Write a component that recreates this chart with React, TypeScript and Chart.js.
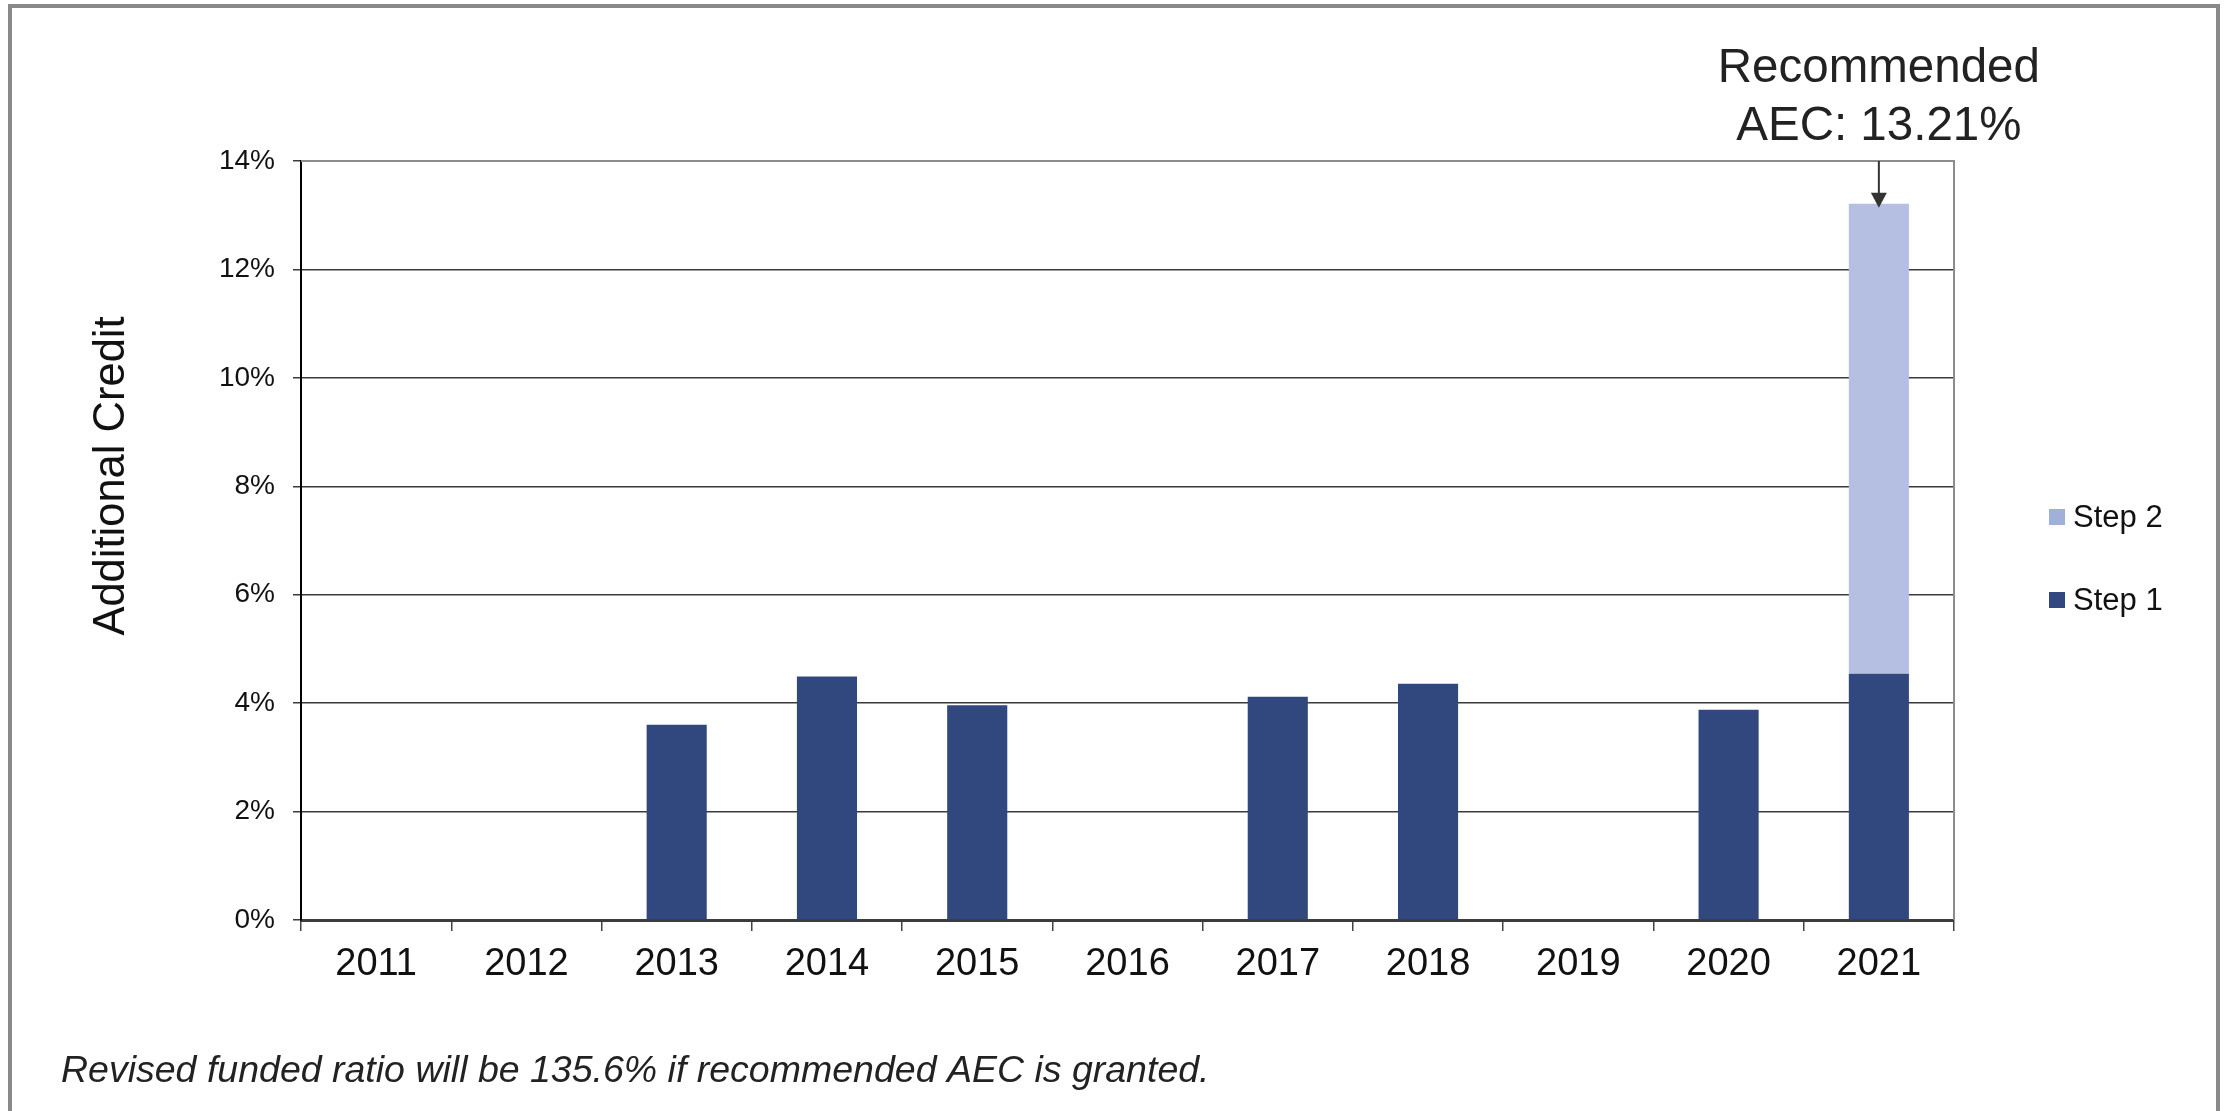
import React, { useEffect, useRef } from "react";
import { Chart, registerables } from "chart.js";

Chart.register(...registerables);

const years = ["2011", "2012", "2013", "2014", "2015", "2016", "2017", "2018", "2019", "2020", "2021"];
const step1Values = [0, 0, 3.6, 4.49, 3.96, 0, 4.12, 4.36, 0, 3.88, 4.54];
const step2Values = [0, 0, 0, 0, 0, 0, 0, 0, 0, 0, 8.67];
const seriesLabels = ["Step 1", "Step 2"];
const seriesColors = ["#31487f", "#b4bfe2"];
const yTicks = [0, 2, 4, 6, 8, 10, 12, 14];
const annotationLines = ["Recommended", "AEC: 13.21%"];
const yTitle = "Additional Credit";
const caption = "Revised funded ratio will be 135.6% if recommended AEC is granted.";

const FONT = "'Liberation Sans', Arial, Helvetica, sans-serif";

export default function App() {
  const ref = useRef<HTMLCanvasElement | null>(null);

  useEffect(() => {
    if (!ref.current) return;
    const decor = {
      id: "decor",
      beforeDraw(chart: any) {
        const ctx = chart.ctx;
        ctx.save();
        ctx.fillStyle = "#ffffff";
        ctx.fillRect(0, 0, chart.width, chart.height);
        ctx.strokeStyle = "#898989";
        ctx.lineWidth = 4;
        ctx.strokeRect(10, 6, 2208, 1400);
        ctx.restore();
      },
      afterDraw(chart: any) {
        const ctx = chart.ctx;
        const area = chart.chartArea;
        const xs = chart.scales.x;
        const ys = chart.scales.y;
        ctx.save();
        // plot top/right border
        ctx.strokeStyle = "#8c8c8c";
        ctx.lineWidth = 2;
        ctx.beginPath();
        ctx.moveTo(area.left, area.top);
        ctx.lineTo(area.right, area.top);
        ctx.lineTo(area.right, area.bottom);
        ctx.stroke();

        // annotation
        const last = years.length - 1;
        const total = step1Values[last] + step2Values[last];
        const cx = xs.getPixelForValue(last);
        const topY = ys.getPixelForValue(total);
        ctx.fillStyle = "#222222";
        ctx.font = `47.5px ${FONT}`;
        ctx.textAlign = "center";
        ctx.textBaseline = "alphabetic";
        ctx.fillText(annotationLines[0], cx, 82);
        ctx.fillText(annotationLines[1], cx, 140);
        // arrow
        ctx.strokeStyle = "#333333";
        ctx.lineWidth = 2;
        ctx.beginPath();
        ctx.moveTo(cx, area.top);
        ctx.lineTo(cx, topY - 10);
        ctx.stroke();
        ctx.fillStyle = "#333333";
        ctx.beginPath();
        ctx.moveTo(cx - 8, topY - 11);
        ctx.lineTo(cx + 8, topY - 11);
        ctx.lineTo(cx, topY + 4);
        ctx.closePath();
        ctx.fill();

        // y title
        ctx.save();
        ctx.translate(112, 476);
        ctx.rotate(-Math.PI / 2);
        ctx.font = `43.5px ${FONT}`;
        ctx.fillStyle = "#111111";
        ctx.textAlign = "center";
        ctx.textBaseline = "middle";
        ctx.fillText(yTitle, 0, 0);
        ctx.restore();

        // legend (reverse order, Step 2 on top)
        const ds = chart.data.datasets;
        const items = [ds[1], ds[0]];
        items.forEach((d: any, i: number) => {
          const y = 517 + i * 83;
          ctx.fillStyle = i === 0 ? "#a0b1d9" : d.backgroundColor;
          ctx.fillRect(2049, y - 8, 16, 16);
          ctx.fillStyle = "#111111";
          ctx.font = `31px ${FONT}`;
          ctx.textAlign = "left";
          ctx.textBaseline = "middle";
          ctx.fillText(d.label, 2073, y + 1);
        });

        // caption
        ctx.fillStyle = "#222222";
        ctx.font = `italic 37.5px ${FONT}`;
        ctx.textAlign = "left";
        ctx.textBaseline = "alphabetic";
        ctx.fillText(caption, 61, 1082);
        ctx.restore();
      },
    };

    const chart = new Chart(ref.current, {
      type: "bar",
      data: {
        labels: years,
        datasets: [
          { label: seriesLabels[0], data: step1Values, backgroundColor: seriesColors[0], borderWidth: 0 },
          { label: seriesLabels[1], data: step2Values, backgroundColor: seriesColors[1], borderWidth: 0 },
        ],
      },
      options: {
        responsive: false,
        animation: false,
        devicePixelRatio: 1,
        layout: { padding: { top: 161, right: 272, bottom: 0, left: 0 } },
        datasets: { bar: { barPercentage: 0.4, categoryPercentage: 1.0 } },
        plugins: { legend: { display: false }, tooltip: { enabled: false }, title: { display: false } },
        scales: {
          x: {
            stacked: true,
            afterFit: (s: any) => {
              s.height = 191;
            },
            grid: { drawOnChartArea: false, drawTicks: true, tickLength: 11, color: "#444444", lineWidth: 1.5, offset: true },
            border: { display: true, color: "#3c3c3c", width: 3 },
            ticks: { color: "#111111", font: { family: FONT, size: 38 }, padding: 11, maxRotation: 0 },
          },
          y: {
            stacked: true,
            min: yTicks[0],
            max: yTicks[yTicks.length - 1],
            afterFit: (s: any) => {
              s.width = 301;
            },
            afterBuildTicks: (s: any) => {
              s.ticks = yTicks.map((v) => ({ value: v }));
            },
            grid: {
              drawTicks: true,
              tickLength: 8,
              color: (c: any) => (c.tick && c.tick.value === 14 ? "#8c8c8c" : "#3a3a3a"),
              tickColor: "#3a3a3a",
              lineWidth: 1.5,
            },
            border: { display: true, color: "#000000", width: 2 },
            ticks: {
              color: "#111111",
              font: { family: FONT, size: 28 },
              padding: 18,
              callback: (v: any) => `${v}%`,
            },
          },
        },
      },
      plugins: [decor],
    });
    return () => chart.destroy();
  }, []);

  return (
    <div style={{ position: "fixed", left: 0, top: 0, width: 2226, height: 1111, background: "#fff" }}>
      <canvas ref={ref} width={2226} height={1111} style={{ display: "block", width: 2226, height: 1111 }} />
    </div>
  );
}
